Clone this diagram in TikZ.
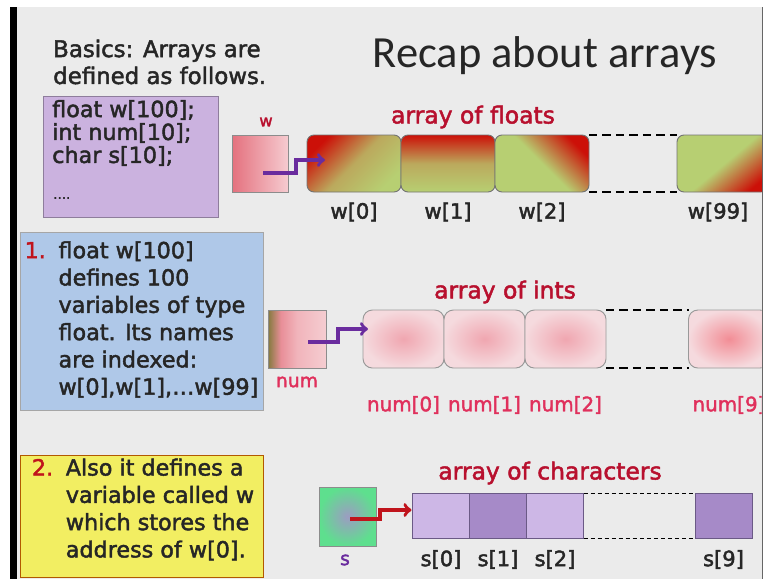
\documentclass[tikz,border=0pt]{standalone}
\usepackage{fontspec}
\usepackage{xcolor}
\usepackage{tikz}
\usetikzlibrary{positioning}
\newfontfamily\comic{DejaVu Sans}[FakeBold=2]
\newfontfamily\calibri{Carlito}
\definecolor{slidebg}{HTML}{EBEBEB}
\definecolor{boxpurple}{HTML}{CBB2DF}
\definecolor{boxblue}{HTML}{AFC8E8}
\definecolor{boxyellow}{HTML}{F2EE62}
\definecolor{txtred}{HTML}{B8102E}
\definecolor{lblred}{HTML}{E0305C}
\definecolor{ptrpurple}{HTML}{6A2C9E}
\definecolor{ptrred}{HTML}{C0141C}
\definecolor{fred}{HTML}{CC1008}
\definecolor{fgreen}{HTML}{B7CF72}
\definecolor{ipink}{HTML}{F0A6B0}
\definecolor{ipale}{HTML}{F5DADE}
\definecolor{clight}{HTML}{CDB7E6}
\definecolor{cdark}{HTML}{A68AC8}
\definecolor{cborder}{HTML}{6B5A86}
\definecolor{sgreen}{HTML}{5EDF8E}
\definecolor{sgrey}{HTML}{9C9CC2}
\definecolor{nolive}{HTML}{847A3E}
\definecolor{nsalmon}{HTML}{E88E98}
\definecolor{npink}{HTML}{F1B4BB}
\definecolor{npale}{HTML}{F5CDD1}
\definecolor{wdeep}{HTML}{E4717E}
\definecolor{wlight}{HTML}{F6CBD0}
\pgfdeclarehorizontalshading{numshade}{100bp}{color(0bp)=(nolive); color(25bp)=(nolive); color(36bp)=(nsalmon); color(50bp)=(npink); color(75bp)=(npale); color(100bp)=(npale)}

\begin{document}
\begin{tikzpicture}[x=0.03cm,y=-0.03cm,
  body/.style={font=\comic\fontsize{19}{19.6}\selectfont,text=black!85,inner sep=0pt,align=left},
  redlbl/.style={font=\comic\fontsize{20}{22}\selectfont,text=txtred,inner sep=0pt},
  idx/.style={font=\comic\fontsize{18}{20}\selectfont,text=black!85,inner sep=0pt},
  fcell/.style={draw=black!55,line width=0.8pt,rounded corners=6pt,minimum width=2.82cm,minimum height=1.71cm,inner sep=0pt,outer sep=0pt},
  icell/.style={draw=black!40,line width=0.8pt,rounded corners=8pt,minimum width=2.43cm,minimum height=1.74cm,inner sep=0pt,outer sep=0pt,inner color=ipink,outer color=ipale},
  ccell/.style={draw=cborder,line width=0.7pt,minimum width=1.71cm,minimum height=1.35cm,inner sep=0pt,outer sep=0pt},
  ptrbox/.style={draw=black!45,line width=0.6pt,inner sep=0pt,outer sep=0pt},
  ptr/.style={->,line width=3pt,ptrpurple},
  gapline/.style={line width=1.7pt,dash pattern=on 7pt off 4.5pt},
]
\useasboundingbox (0,0) rectangle (767,579);
\fill[white] (0,0) rectangle (767,579);
\fill[black] (10,7) rectangle (17,579);
\fill[slidebg] (17,7) rectangle (762,579);
\draw[black!60] (762,7) -- (762,579);

\begin{scope}
\clip (17,7) rectangle (761.5,579);

\node[anchor=base,font=\calibri\fontsize{38}{44}\selectfont,text=black!85] (title) at (545,67) {Recap about arrays};
\node[body,anchor=west,font=\comic\fontsize{19.5}{23}\selectfont] (basics) at (53,62) {Basics: Arrays are\\defined as follows.};

\filldraw[fill=boxpurple,draw=boxpurple!70!black] (43,96) rectangle (218,217);
\node[body,anchor=west] (decl) at (52,133) {float w[100];\\int num[10];\\char s[10];};
\node[body,anchor=west,font=\comic\fontsize{11}{12}\selectfont] (dots) at (53,198) {\ldots.};

\node[draw=black!35,fill=boxblue,minimum width=7.29cm,minimum height=5.34cm,inner sep=0pt,
  font=\comic\fontsize{19}{23.3}\selectfont,text=black!85] (note1) at (141.5,321)
  {\begin{tabular}{@{}l@{\hspace{0.38cm}}l@{}}
   \textcolor{ptrred}{1.} & float w[100]\\
   & defines 100\\
   & variables of type\\
   & float. Its names\\
   & are indexed:\\
   & w[0],w[1],\ldots w[99]
   \end{tabular}};

\filldraw[fill=boxyellow,draw=orange!70!black] (20,455) rectangle (263,577);
\node[inner sep=0pt,font=\comic\fontsize{19}{23.3}\selectfont,text=black!85] (note2) at (143,511)
  {\begin{tabular}{@{}l@{\hspace{0.38cm}}l@{}}
   \textcolor{ptrred}{2.} & Also it defines a\\
   & variable called w\\
   & which stores the\\
   & address of w[0].
   \end{tabular}};

\node[redlbl] (fltname) at (473,117) {array of floats};
\node[font=\comic\fontsize{14}{16}\selectfont,text=txtred,inner sep=0pt] (wname) at (266,122) {w};
\node[ptrbox,minimum width=1.68cm,minimum height=1.71cm,left color=wdeep,middle color=wlight!85!wdeep,right color=wlight] (wbox) at (260,163.5) {};
\node[fcell,top color=fred,bottom color=fgreen,middle color=fgreen!80!fred,shading angle=45] (w0) at (354,163.5) {};
\node[fcell,top color=fred,bottom color=fgreen,middle color=fgreen!80!fred,right=0pt of w0] (w1) {};
\node[fcell,top color=fred,bottom color=fgreen,middle color=fgreen,shading angle=-45,right=0pt of w1] (w2) {};
\node[fcell,left color=fgreen,right color=fred,middle color=fgreen,shading angle=40] (w99) at (724,163.5) {};
\draw[gapline] (w2.north east) -- (w99.north west);
\draw[gapline] (w2.south east) -- (w99.south west);
\coordinate (wtip) at ([shift={(18,-3.5)}]w0.west);
\draw[ptr] (wbox.center) ++(3,9.5) -- ++(33,0) |- (wtip);
\node[idx] (w0lbl) at ([yshift=-0.6cm]w0.south) {w[0]};
\node[idx] (w1lbl) at ([yshift=-0.6cm]w1.south) {w[1]};
\node[idx] (w2lbl) at ([yshift=-0.6cm]w2.south) {w[2]};
\node[idx] (w99lbl) at ([yshift=-0.6cm,xshift=-0.18cm]w99.south) {w[99]};

\node[redlbl] (intname) at (505,292) {array of ints};
\node[ptrbox,minimum width=1.74cm,minimum height=1.74cm,shading=numshade] (numbox) at (297,339) {};
\node[font=\comic\fontsize{16}{18}\selectfont,text=lblred,inner sep=0pt] (numname) at (297,382) {num};
\node[icell] (num0) at (403.5,339) {};
\node[icell,right=0pt of num0] (num1) {};
\node[icell,right=0pt of num1] (num2) {};
\node[icell,inner color=ipink!85!red] (num9) at (729,339) {};
\draw[gapline] (num2.north east) -- (num9.north west);
\draw[gapline] (num2.south east) -- (num9.south west);
\coordinate (numtip) at ([shift={(5,-10)}]num0.west);
\draw[ptr] (numbox.center) ++(11,3) -- ++(30,0) |- (numtip);
\node[idx,text=lblred,font=\comic\fontsize{17}{19}\selectfont] (num0lbl) at ([yshift=-1.11cm]num0.south) {num[0]};
\node[idx,text=lblred,font=\comic\fontsize{17}{19}\selectfont] (num1lbl) at ([yshift=-1.11cm]num1.south) {num[1]};
\node[idx,text=lblred,font=\comic\fontsize{17}{19}\selectfont] (num2lbl) at ([yshift=-1.11cm]num2.south) {num[2]};
\node[idx,text=lblred,font=\comic\fontsize{17}{19}\selectfont] (num9lbl) at ([yshift=-1.11cm]num9.south) {num[9]};

\node[redlbl] (chrname) at (550,473) {array of characters};
\node[ptrbox,minimum width=1.71cm,minimum height=1.77cm,inner color=sgrey,outer color=sgreen] (sbox) at (347.5,516.5) {};
\node[font=\comic\fontsize{16}{18}\selectfont,text=ptrpurple,inner sep=0pt] (sname) at (345,560) {s};
\node[ccell,fill=clight] (s0) at (441,516) {};
\node[ccell,fill=cdark,right=0pt of s0] (s1) {};
\node[ccell,fill=clight,right=0pt of s1] (s2) {};
\node[ccell,fill=cdark] (s9) at (723.5,516) {};
\draw[line width=0.8pt,dash pattern=on 3.5pt off 2.5pt] (s2.north east) -- (s9.north west);
\draw[line width=0.8pt,dash pattern=on 3.5pt off 2.5pt] (s2.south east) -- (s9.south west);
\coordinate (stip) at ([shift={(-1,-6)}]s0.west);
\draw[ptr,ptrred] (sbox.center) ++(2.5,2.5) -- ++(30,0) |- (stip);
\node[idx] (s0lbl) at ([yshift=-0.63cm]s0.south) {s[0]};
\node[idx] (s1lbl) at ([yshift=-0.63cm]s1.south) {s[1]};
\node[idx] (s2lbl) at ([yshift=-0.63cm]s2.south) {s[2]};
\node[idx] (s9lbl) at ([yshift=-0.63cm]s9.south) {s[9]};
\end{scope}
\end{tikzpicture}
\end{document}
